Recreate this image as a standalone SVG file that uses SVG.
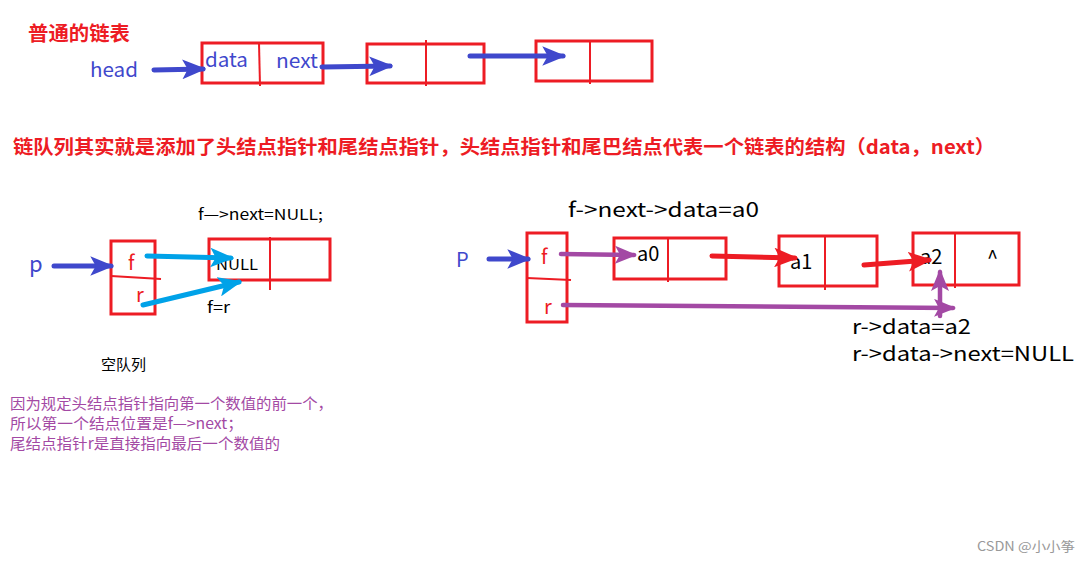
<svg xmlns="http://www.w3.org/2000/svg" width="1091" height="562" viewBox="0 0 1091 562">
<style>
.box{fill:none;stroke:#ED1C24;stroke-width:3}
.div{stroke:#ED1C24;stroke-width:2}
.t{font-family:"Noto Sans CJK SC","Noto Sans",sans-serif}
.blue{fill:#3F48CC}
.red{fill:#ED1C24}
.blk{fill:#000}
.pur{fill:#A349A4}
.ab{stroke:#3F48CC;stroke-width:5;stroke-linecap:round;fill:none;marker-end:url(#hb)}
.ac{stroke:#00A2E8;stroke-width:5;stroke-linecap:round;fill:none;marker-end:url(#hc)}
.ap{stroke:#A349A4;stroke-width:4.5;stroke-linecap:round;fill:none;marker-end:url(#hp)}
.ar{stroke:#ED1C24;stroke-width:5;stroke-linecap:round;fill:none;marker-end:url(#hr)}
</style>
<defs>
<marker id="hb" markerUnits="userSpaceOnUse" markerWidth="24" markerHeight="20" viewBox="0 0 22 18" refX="19" refY="9" orient="auto"><path d="M0,0 L22,9 L0,18 L5,9 z" fill="#3F48CC"/></marker>
<marker id="hc" markerUnits="userSpaceOnUse" markerWidth="24" markerHeight="20" viewBox="0 0 22 18" refX="19" refY="9" orient="auto"><path d="M0,0 L22,9 L0,18 L5,9 z" fill="#00A2E8"/></marker>
<marker id="hp" markerUnits="userSpaceOnUse" markerWidth="22" markerHeight="18" viewBox="0 0 22 18" refX="19" refY="9" orient="auto"><path d="M0,0 L22,9 L0,18 L5,9 z" fill="#A349A4"/></marker>
<marker id="hr" markerUnits="userSpaceOnUse" markerWidth="24" markerHeight="20" viewBox="0 0 22 18" refX="19" refY="9" orient="auto"><path d="M0,0 L22,9 L0,18 L5,9 z" fill="#ED1C24"/></marker>
</defs>
<rect width="1091" height="562" fill="#fff"/>

<g id="title1"><text class="t red" x="28" y="41" font-size="20" font-weight="bold" textLength="102" lengthAdjust="spacingAndGlyphs">普通的链表</text></g>
<g id="head"><text class="t blue" x="90" y="77" font-size="20" textLength="48" lengthAdjust="spacingAndGlyphs">head</text></g>
<g id="ll-node1"><rect class="box" x="202" y="43" width="121" height="40"/><line class="div" x1="259" y1="43" x2="260" y2="86"/>
<text class="t blue" x="205" y="67" font-size="19" textLength="43" lengthAdjust="spacingAndGlyphs">data</text><text class="t blue" x="276" y="68" font-size="19" textLength="42" lengthAdjust="spacingAndGlyphs">next</text></g>
<g id="ll-node2"><rect class="box" x="367" y="44" width="117" height="39"/><line class="div" x1="426" y1="40" x2="426" y2="86"/></g>
<g id="ll-node3"><rect class="box" x="536" y="41" width="116" height="40"/><line class="div" x1="590" y1="41" x2="590" y2="84"/></g>

<g id="desc"><text class="t red" x="13" y="154" font-size="19" font-weight="bold" textLength="982" lengthAdjust="spacingAndGlyphs">链队列其实就是添加了头结点指针和尾结点指针，头结点指针和尾巴结点代表一个链表的结构（data，next）</text></g>

<g id="empty-label"><text class="t blk" x="198" y="220" font-size="15" textLength="125" lengthAdjust="spacingAndGlyphs">f—&gt;next=NULL;</text></g>
<g id="p-left"><text class="t blue" x="29" y="272" font-size="22">p</text></g>
<g id="fr-left"><rect class="box" x="111" y="241" width="44" height="73"/><line class="div" x1="111" y1="276" x2="161" y2="279"/>
<text class="t red" x="128" y="270" font-size="20">f</text><text class="t red" x="136" y="302" font-size="20">r</text></g>
<g id="null-node"><rect class="box" x="209" y="239" width="121" height="41"/><line class="div" x1="270" y1="237" x2="270" y2="290"/>
<text class="t blk" x="216" y="270" font-size="15" textLength="42" lengthAdjust="spacingAndGlyphs">NULL</text></g>
<g id="fr-label"><text class="t blk" x="207" y="313" font-size="15" textLength="23" lengthAdjust="spacingAndGlyphs">f=r</text></g>
<g id="empty-queue"><text class="t blk" x="101" y="370" font-size="15">空队列</text></g>
<g id="note"><text class="t pur" x="10" y="409" font-size="15" textLength="323" lengthAdjust="spacingAndGlyphs">因为规定头结点指针指向第一个数值的前一个，</text>
<text class="t pur" x="10" y="429" font-size="15" textLength="233" lengthAdjust="spacingAndGlyphs">所以第一个结点位置是f—&gt;next；</text>
<text class="t pur" x="10" y="449" font-size="15" textLength="270" lengthAdjust="spacingAndGlyphs">尾结点指针r是直接指向最后一个数值的</text></g>

<g id="a0-label"><text class="t blk" x="568" y="217" font-size="20" textLength="191" lengthAdjust="spacingAndGlyphs">f-&gt;next-&gt;data=a0</text></g>
<g id="p-right"><text class="t blue" x="456" y="267" font-size="20">P</text></g>
<g id="fr-right"><rect class="box" x="527" y="233" width="40" height="89"/><line class="div" x1="527" y1="278" x2="571" y2="280"/>
<text class="t red" x="541" y="264" font-size="20">f</text><text class="t red" x="544" y="314" font-size="20">r</text></g>
<g id="node-a0"><rect class="box" x="614" y="238" width="112" height="41"/><line class="div" x1="668" y1="238" x2="668" y2="282"/>
<text class="t blk" x="637" y="261" font-size="20">a0</text></g>
<g id="node-a1"><rect class="box" x="779" y="236" width="98" height="50"/><line class="div" x1="825" y1="236" x2="825" y2="290"/>
<text class="t blk" x="790" y="269" font-size="20">a1</text></g>
<g id="node-a2"><rect class="box" x="913" y="233" width="106" height="52"/><line class="div" x1="955" y1="233" x2="955" y2="288"/>
<text class="t blk" x="920" y="264" font-size="20">a2</text><text class="t blk" x="987" y="265" font-size="20">^</text></g>
<g id="r-labels"><text class="t blk" x="852" y="334" font-size="20" textLength="119" lengthAdjust="spacingAndGlyphs">r-&gt;data=a2</text>
<text class="t blk" x="852" y="361" font-size="20" textLength="222" lengthAdjust="spacingAndGlyphs">r-&gt;data-&gt;next=NULL</text></g>
<g id="watermark"><text class="t" x="977" y="551" font-size="13" fill="#999" textLength="98" lengthAdjust="spacingAndGlyphs">CSDN @小小筝</text></g>

<g id="connectors">
<line class="ab" x1="154" y1="70" x2="203" y2="69"/>
<line class="ab" x1="322" y1="67" x2="390" y2="66"/>
<line class="ab" x1="470" y1="56" x2="563" y2="56"/>
<line class="ab" x1="54" y1="266" x2="111" y2="266"/>
<line class="ac" x1="147" y1="256" x2="231" y2="258"/>
<line class="ac" x1="143" y1="305" x2="239" y2="282"/>
<line class="ab" x1="489" y1="259" x2="528" y2="259"/>
<line class="ap" x1="561" y1="254" x2="634" y2="255"/>
<line class="ar" x1="712" y1="256" x2="795" y2="258"/>
<line class="ar" x1="864" y1="265" x2="929" y2="260"/>
<line class="ap" x1="563" y1="305" x2="953" y2="308"/>
<line class="ap" x1="940" y1="316" x2="940" y2="272"/>
</g>
</svg>
